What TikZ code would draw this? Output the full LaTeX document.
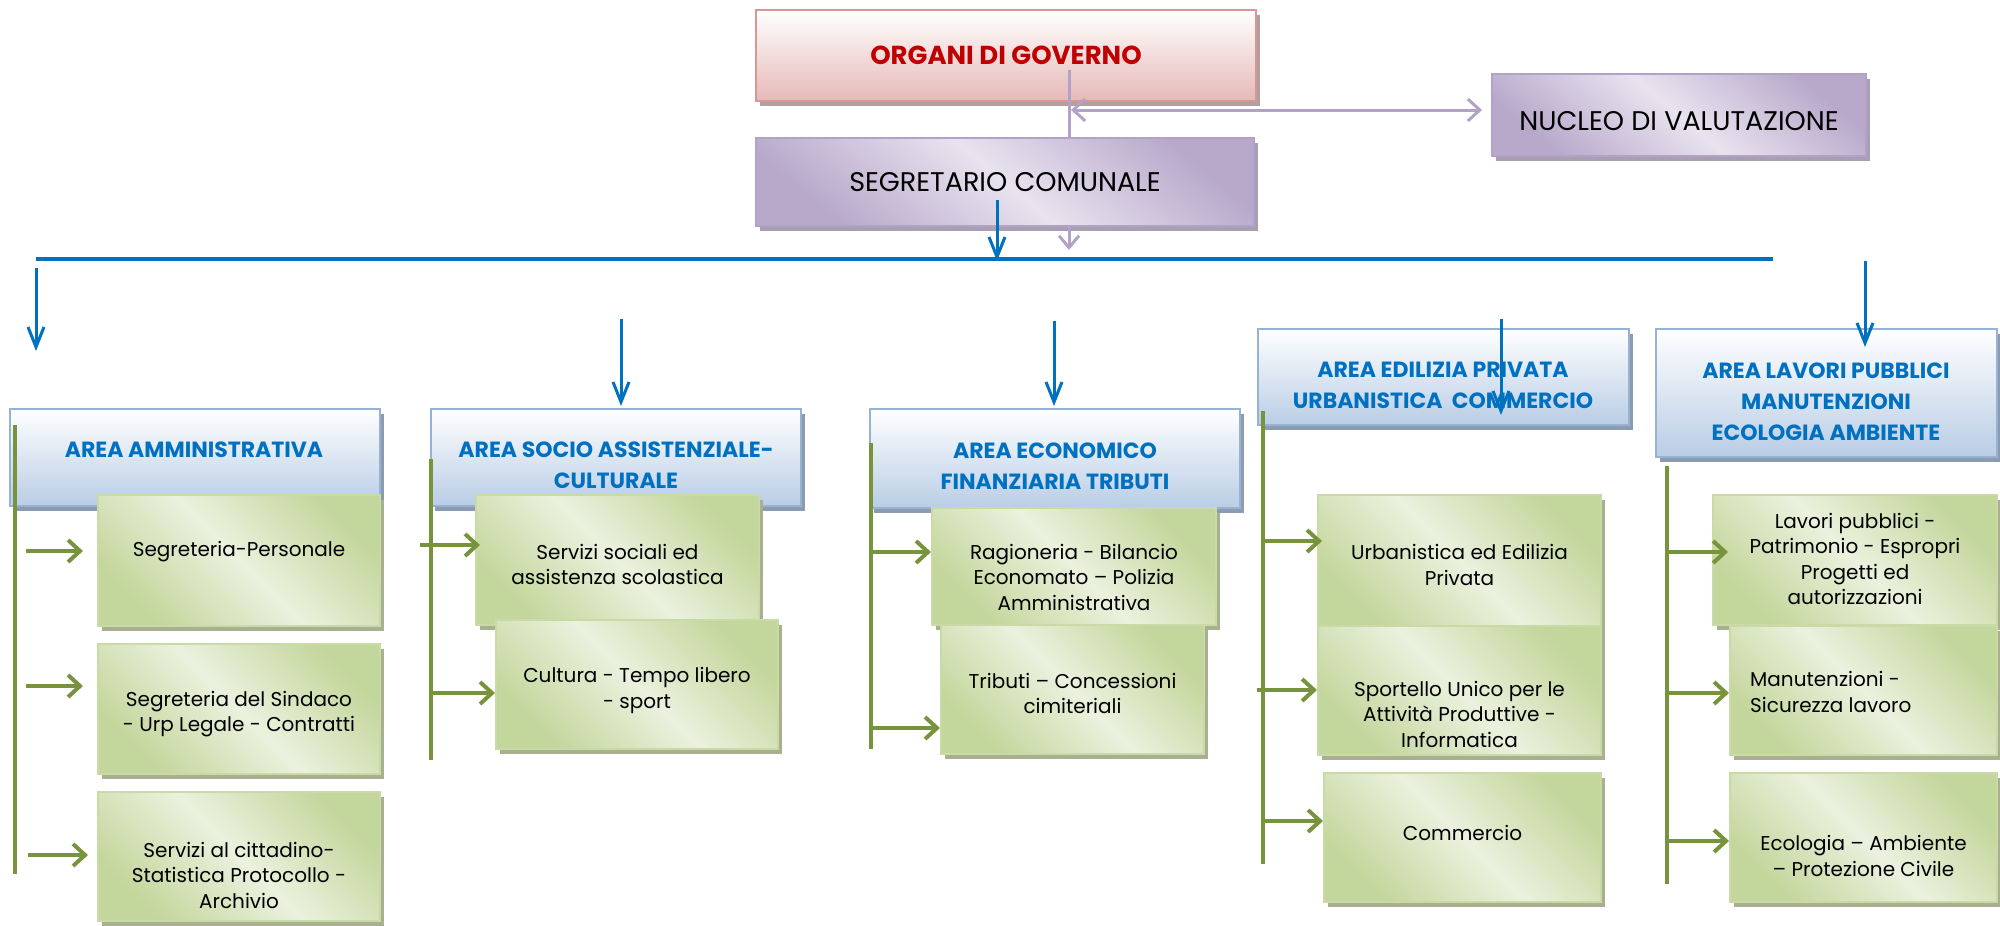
\documentclass[tikz,border=0pt]{standalone}
\usepackage{fontspec}
\setmainfont{Poppins}
\usetikzlibrary{arrows.meta,shadows}
\definecolor{bluel}{HTML}{0070C0}
\definecolor{greenl}{HTML}{77933C}
\definecolor{lavl}{HTML}{B3A2C7}
\definecolor{redt}{HTML}{C00000}
\definecolor{gdark}{HTML}{C3D69B}
\definecolor{glight}{HTML}{EBF1DE}
\definecolor{gborder}{HTML}{C9DAA6}
\definecolor{gshadow}{HTML}{A8B090}
\definecolor{ldark}{HTML}{B8A9CB}
\definecolor{llight}{HTML}{E8E3EF}
\definecolor{lshadow}{HTML}{A8A0B0}
\definecolor{bdark}{HTML}{B9CDE5}
\definecolor{bborder}{HTML}{95B3D7}
\definecolor{bshadow}{HTML}{8E9AAE}
\definecolor{pdark}{HTML}{E6B9B8}
\definecolor{pborder}{HTML}{D99694}
\definecolor{pshadow}{HTML}{B0A0A0}
\tikzset{
  box/.style={rectangle, draw, line width=2pt, inner sep=0pt},
  pbox/.style={box, draw=pborder, top color=white, bottom color=pdark,
    drop shadow={shadow xshift=4pt, shadow yshift=-5pt, fill=pshadow, opacity=1}},
  lbox/.style={box, draw=lavl, top color=ldark, bottom color=ldark, middle color=llight, shading angle=-40,
    drop shadow={shadow xshift=4pt, shadow yshift=-5pt, fill=lshadow, opacity=1}},
  abox/.style={box, draw=bborder, top color=white, bottom color=bdark,
    drop shadow={shadow xshift=4pt, shadow yshift=-5pt, fill=bshadow, opacity=1}},
  gbox/.style={box, draw=gborder, top color=gdark, bottom color=gdark, middle color=glight, shading angle=-45,
    drop shadow={shadow xshift=4pt, shadow yshift=-5pt, fill=gshadow, opacity=1}},
  gtxt/.style={align=center, inner sep=0pt, font=\fontsize{20}{25.5}\selectfont},
  atxt/.style={align=center, inner sep=0pt, text=bluel, font=\fontsize{22}{31}\selectfont\bfseries},
  ttxt/.style={align=center, inner sep=0pt, font=\fontsize{27}{30}\selectfont},
  bline/.style={draw=bluel, line width=3pt},
  barr/.style={draw=bluel, line width=3pt, -{Straight Barb[length=20pt,width=16pt]}},
  gline/.style={draw=greenl, line width=4pt},
  garr/.style={draw=greenl, line width=4pt, -{Straight Barb[length=12pt,width=22pt]}},
  lline/.style={draw=lavl, line width=3pt},
}
\begin{document}
\begin{tikzpicture}[x=1pt,y=-1pt]
\useasboundingbox (0,0) rectangle (2000,926);
% top boxes
\node[pbox, minimum width=500pt, minimum height=91pt] (org) at (1006,55.5) {};
\node[ttxt, text=redt, font=\fontsize{26}{30}\selectfont\bfseries] (torg) at (1006,55) {ORGANI DI GOVERNO};
\node[lbox, minimum width=374pt, minimum height=82pt] (nuc) at (1679,115) {};
\node[ttxt] (tnuc) at (1679,121) {NUCLEO DI VALUTAZIONE};
\node[lbox, minimum width=498pt, minimum height=88pt] (seg) at (1005,182) {};
\node[ttxt] (tseg) at (1005,182) {SEGRETARIO COMUNALE};
% lavender connectors
\coordinate (l1a) at (1069,70);
\coordinate (l2a) at (1071,110);
\coordinate (l3a) at (1069,227);
\coordinate (l3b) at (1069,250);
\draw[lline] (l1a) -- (l1a |- seg.north);
\draw[lline, {Straight Barb[length=12pt,width=22pt]}-{Straight Barb[length=12pt,width=22pt]}, shorten >=9pt] (l2a) -- (l2a -| nuc.west);
\draw[lline, -{Straight Barb[length=12pt,width=20pt]}] (l3a) -- (l3b);
% blue bus
\coordinate (bs) at (997,200);
\coordinate (be) at (997,261);
\coordinate (busl) at (36,259);
\coordinate (busr) at (1773,259);
\draw[bline, line width=4pt] (busl) -- (busr);
\draw[barr] (bs) -- (be);
% area boxes
\node[abox, minimum width=370pt, minimum height=97pt] (a1) at (195,457.5) {};
\node[abox, minimum width=370pt, minimum height=97pt] (a2) at (616,457.5) {};
\node[abox, minimum width=370pt, minimum height=99pt] (a3) at (1055,458.5) {};
\node[abox, minimum width=371pt, minimum height=96pt] (a4) at (1443.5,377) {};
\node[abox, minimum width=341pt, minimum height=128pt] (a5) at (1826.5,393) {};
\node[atxt] (ta1) at (194,450) {AREA AMMINISTRATIVA};
\node[atxt] (ta2) at (616,465.5) {AREA SOCIO ASSISTENZIALE-\\CULTURALE};
\node[atxt] (ta3) at (1055,466) {AREA ECONOMICO\\FINANZIARIA TRIBUTI};
\node[atxt] (ta4) at (1443,385.5) {AREA EDILIZIA PRIVATA\\URBANISTICA\ \ COMMERCIO};
\node[atxt] (ta5) at (1826,401.5) {AREA LAVORI PUBBLICI\\MANUTENZIONI\\ECOLOGIA AMBIENTE};
% green verticals
\coordinate (v1a) at (15,425);  \coordinate (v1b) at (15,874);
\coordinate (v2a) at (431,459); \coordinate (v2b) at (431,760);
\coordinate (v3a) at (871,443); \coordinate (v3b) at (871,749);
\coordinate (v4a) at (1263,411); \coordinate (v4b) at (1263,864);
\coordinate (v5a) at (1667,466); \coordinate (v5b) at (1667,884);
\draw[gline] (v1a) -- (v1b);
\draw[gline] (v2a) -- (v2b);
\draw[gline] (v3a) -- (v3b);
\draw[gline] (v4a) -- (v4b);
\draw[gline] (v5a) -- (v5b);
% green boxes
\node[gbox, minimum width=282pt, minimum height=131pt] (g11) at (239,560.5) {};
\node[gbox, minimum width=282pt, minimum height=130pt] (g12) at (239,709) {};
\node[gbox, minimum width=282pt, minimum height=129pt] (g13) at (239,856.5) {};
\node[gbox, minimum width=283pt, minimum height=130pt] (g21) at (617.5,560) {};
\node[gbox, minimum width=282pt, minimum height=129pt] (g22) at (637,684.5) {};
\node[gbox, minimum width=284pt, minimum height=117pt] (g31) at (1074,566.5) {};
\node[gbox, minimum width=263pt, minimum height=129pt] (g32) at (1072.5,689.5) {};
\node[gbox, minimum width=283pt, minimum height=131pt] (g41) at (1459.5,560.5) {};
\node[gbox, minimum width=283pt, minimum height=129pt] (g42) at (1459.5,690.5) {};
\node[gbox, minimum width=277pt, minimum height=129pt] (g43) at (1462.5,837.5) {};
\node[gbox, minimum width=284pt, minimum height=130pt] (g51) at (1855,560) {};
\node[gbox, minimum width=267pt, minimum height=129pt] (g52) at (1863.5,690.5) {};
\node[gbox, minimum width=267pt, minimum height=129pt] (g53) at (1863.5,837.5) {};
\node[gtxt] (t11) at (239,552) {Segreteria-Personale};
\node[gtxt] (t12) at (239,714) {Segreteria del Sindaco\\- Urp Legale - Contratti};
\node[gtxt] (t13) at (239,875) {Servizi al cittadino-\\Statistica Protocollo -\\Archivio};
\node[gtxt] (t21) at (617.5,564.5) {Servizi sociali ed\\assistenza scolastica};
\node[gtxt] (t22) at (637,690.5) {Cultura - Tempo libero\\- sport};
\node[gtxt] (t31) at (1074,577) {Ragioneria - Bilancio\\Economato – Polizia\\Amministrativa};
\node[gtxt] (t32) at (1072.5,693.5) {Tributi – Concessioni\\cimiteriali};
\node[gtxt] (t41) at (1459.5,565) {Urbanistica ed Edilizia\\Privata};
\node[gtxt] (t42) at (1459.5,714) {Sportello Unico per le\\Attività Produttive -\\Informatica};
\node[gtxt] (t43) at (1462.5,833) {Commercio};
\node[gtxt] (t51) at (1855,559) {Lavori pubblici -\\Patrimonio - Espropri\\Progetti ed\\autorizzazioni};
\node[gtxt, align=left, anchor=west] (t52) at (1750,692) {Manutenzioni -\\Sicurezza lavoro};
\node[gtxt] (t53) at (1863.5,856) {Ecologia – Ambiente\\– Protezione Civile};
% green arrows
\coordinate (e11) at (26,551);  \coordinate (e12) at (26,686);  \coordinate (e13) at (28,855);
\coordinate (e21) at (420,545); \coordinate (e22) at (431,693);
\coordinate (e31) at (871,552); \coordinate (e32) at (871,728);
\coordinate (e41) at (1263,541); \coordinate (e42) at (1257,690); \coordinate (e43) at (1263,821);
\coordinate (e51) at (1667,552); \coordinate (e52) at (1667,693); \coordinate (e53) at (1667,841);
\draw[garr] (e11) -- ([xshift=-14pt]g11.west |- e11);
\draw[garr] (e12) -- ([xshift=-14pt]g12.west |- e12);
\draw[garr] (e13) -- ([xshift=-9pt]g13.west |- e13);
\draw[garr] (e21) -- ([xshift=5pt]g21.west |- e21);
\draw[garr] (e22) -- (g22.west |- e22);
\draw[garr] (e31) -- (g31.west |- e31);
\draw[garr] (e32) -- (g32.west |- e32);
\draw[garr] (e41) -- ([xshift=5pt]g41.west |- e41);
\draw[garr] (e42) -- (g42.west |- e42);
\draw[garr] (e43) -- (g43.west |- e43);
\draw[garr] (e51) -- ([xshift=16pt]g51.west |- e51);
\draw[garr] (e52) -- (g52.west |- e52);
\draw[garr] (e53) -- (g53.west |- e53);
% blue arrows down
\coordinate (d1a) at (36,268);   \coordinate (d1b) at (36,351);
\coordinate (d2a) at (621,319);  \coordinate (d2b) at (621,406);
\coordinate (d3a) at (1054,321); \coordinate (d3b) at (1054,406);
\coordinate (d4a) at (1501,319); \coordinate (d4b) at (1501,415);
\coordinate (d5a) at (1865,261); \coordinate (d5b) at (1865,347);
\draw[barr] (d1a) -- (d1b);
\draw[barr] (d2a) -- (d2b);
\draw[barr] (d3a) -- (d3b);
\draw[barr] (d4a) -- (d4b);
\draw[barr] (d5a) -- (d5b);
\end{tikzpicture}
\end{document}
